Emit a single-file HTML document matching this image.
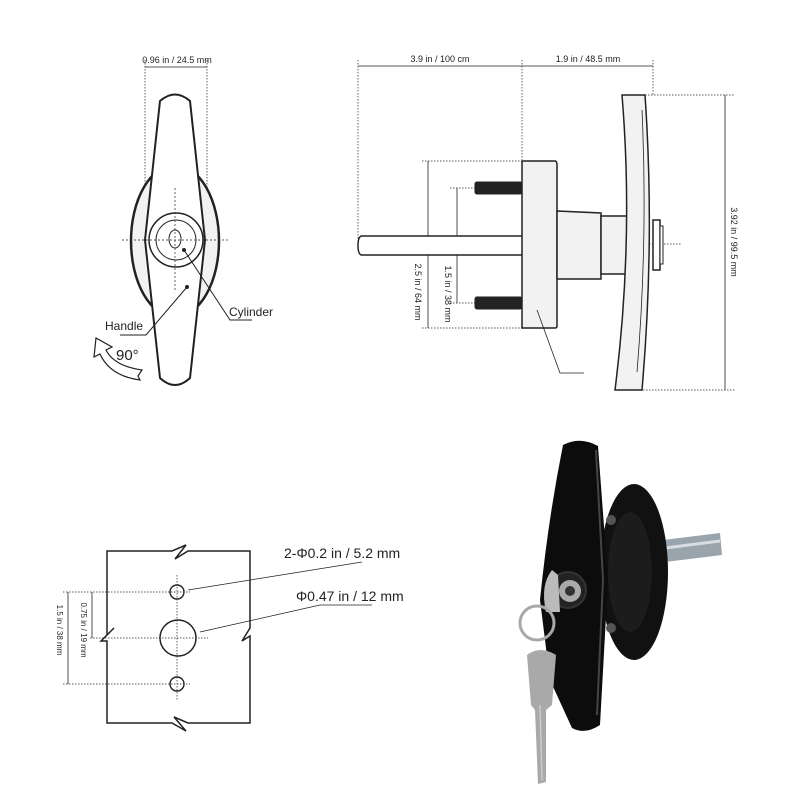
<!DOCTYPE html>
<html><head><meta charset="utf-8"><style>
html,body{margin:0;padding:0;background:#fff}
svg{display:block}
text{font-family:"Liberation Sans","DejaVu Sans",sans-serif;fill:#222}
</style></head><body>
<svg width="800" height="800" viewBox="0 0 800 800" xmlns="http://www.w3.org/2000/svg">
<!-- ===== Front view ===== -->
<g fill="none" stroke="#222">
  <line x1="145" y1="60" x2="145" y2="240" stroke-dasharray="1.5,1.5" stroke-width="0.7"/>
  <line x1="207" y1="60" x2="207" y2="240" stroke-dasharray="1.5,1.5" stroke-width="0.7"/>
  <line x1="145" y1="67" x2="207" y2="67" stroke-width="0.8"/>
  <ellipse cx="175" cy="241" rx="44" ry="76" fill="#f2f2f2" stroke-width="2.5"/>
  <path d="M160,101 Q175,88 190,101 L205,240 L190,378 Q175,392 160,378 L145,240 Z" fill="#fff" stroke-width="2"/>
  <circle cx="176" cy="240" r="27" stroke-width="1.5"/>
  <circle cx="176" cy="240" r="20" stroke-width="1"/>
  <ellipse cx="175" cy="239" rx="6" ry="9" stroke-width="1"/>
  <line x1="122" y1="240" x2="228" y2="240" stroke-dasharray="2,2" stroke-width="0.7"/>
  <line x1="175" y1="188" x2="175" y2="290" stroke-dasharray="2,2" stroke-width="0.7"/>
  <polyline points="187,287 146,335 120,335" stroke-width="1"/>
  <polyline points="184,250 230,320 252,320" stroke-width="1"/>
  <path d="M140,380 Q110,376 100,354 L94,357 L96,338 L112,347 L106,350 Q114,366 142,370 L138,376 Z" fill="#fff" stroke-width="1.2"/>
</g>
<circle cx="187" cy="287" r="2" fill="#222"/>
<circle cx="184" cy="250" r="2" fill="#222"/>
<text x="177" y="63" font-size="9" text-anchor="middle">0.96 in / 24.5 mm</text>
<text x="105" y="330" font-size="12">Handle</text>
<text x="229" y="316" font-size="12">Cylinder</text>
<text x="116" y="360" font-size="15">90°</text>

<!-- ===== Side view ===== -->
<g fill="none" stroke="#222">
  <g stroke-dasharray="1.5,1.5" stroke-width="0.7">
    <line x1="358" y1="60" x2="358" y2="240"/>
    <line x1="522" y1="60" x2="522" y2="160"/>
    <line x1="653" y1="60" x2="653" y2="95"/>
    <line x1="645" y1="95" x2="735" y2="95"/>
    <line x1="640" y1="390" x2="735" y2="390"/>
    <line x1="422" y1="161" x2="522" y2="161"/>
    <line x1="422" y1="328" x2="522" y2="328"/>
    <line x1="450" y1="188" x2="475" y2="188"/>
    <line x1="450" y1="303" x2="475" y2="303"/>
    <line x1="535" y1="244" x2="682" y2="244"/>
  </g>
  <line x1="358" y1="66" x2="653" y2="66" stroke-width="0.8"/>
  <line x1="725" y1="95" x2="725" y2="390" stroke-width="0.8"/>
  <line x1="428" y1="161" x2="428" y2="328" stroke-width="0.8"/>
  <line x1="457" y1="188" x2="457" y2="303" stroke-width="0.8"/>
  <path d="M522,236 L362,236 Q358,236 358,245.5 Q358,255 362,255 L522,255" fill="#fff" stroke-width="1.5"/>
  <rect x="475" y="182" width="47" height="12" rx="2" fill="#222"/>
  <rect x="475" y="297" width="47" height="12" rx="2" fill="#222"/>
  <path d="M522,161 L555,161 Q557,161 557,165 L557,326 Q557,328 555,328 L522,328 Z" fill="#f2f2f2" stroke-width="1.5"/>
  <path d="M557,211 L601,213 L601,279 L557,279 Z" fill="#f2f2f2" stroke-width="1.5"/>
  <path d="M601,216 L628,216 L628,274 L601,274 Z" fill="#f2f2f2" stroke-width="1.5"/>
  <path d="M622,95 L645,95 Q655,240 642,390 L615,390 Q634,240 622,95 Z" fill="#f2f2f2" stroke-width="1.5"/>
  <path d="M642,110 Q648,240 637,372" stroke-width="0.8"/>
  <rect x="653" y="220" width="7" height="50" fill="#fff" stroke-width="1.5"/>
  <rect x="660" y="226" width="3" height="38" fill="#fff" stroke-width="1"/>
  <polyline points="537,310 560,373 584,373" stroke-width="0.8"/>
</g>
<text x="440" y="62" font-size="9" text-anchor="middle">3.9 in / 100 cm</text>
<text x="588" y="62" font-size="9" text-anchor="middle">1.9 in / 48.5 mm</text>
<text font-size="9" text-anchor="middle" transform="translate(731,242) rotate(90)">3.92 in / 99.5 mm</text>
<text font-size="9" text-anchor="middle" transform="translate(415,292) rotate(90)">2.5 in / 64 mm</text>
<text font-size="9" text-anchor="middle" transform="translate(445,294) rotate(90)">1.5 in / 38 mm</text>

<!-- ===== Hole layout ===== -->
<g fill="none" stroke="#222">
  <path d="M107,551 L172,551 L186,545 L175,559 L188,551 L250,551 L250,628 L242,641 L250,636 L250,723 L188,723 L174,717 L186,731 L172,723 L107,723 L107,641 L101,641 L114,628 L107,635 Z" stroke-width="1.5"/>
  <circle cx="177" cy="592" r="7" stroke-width="1.4"/>
  <circle cx="177" cy="684" r="7" stroke-width="1.4"/>
  <circle cx="178" cy="638" r="18" stroke-width="1.5"/>
  <g stroke-dasharray="1.5,1.5" stroke-width="0.7">
    <line x1="63" y1="592" x2="190" y2="592"/>
    <line x1="90" y1="638" x2="208" y2="638"/>
    <line x1="63" y1="684" x2="190" y2="684"/>
    <line x1="177" y1="575" x2="177" y2="700"/>
  </g>
  <line x1="68" y1="592" x2="68" y2="684" stroke-width="0.8"/>
  <line x1="92" y1="592" x2="92" y2="638" stroke-width="0.8"/>
  <polyline points="188,590 362,562" stroke-width="0.8"/>
  <polyline points="200,632 320,605 372,605" stroke-width="0.8"/>
</g>
<text x="284" y="558" font-size="14">2-Φ0.2 in / 5.2 mm</text>
<text x="296" y="601" font-size="14">Φ0.47 in / 12 mm</text>
<text font-size="8" text-anchor="middle" transform="translate(57,630) rotate(90)">1.5 in / 38 mm</text>
<text font-size="8" text-anchor="middle" transform="translate(81,630) rotate(90)">0.75 in / 19 mm</text>

<!-- ===== Photo ===== -->
<g>
  <path d="M663,540 L720,533 L722,555 L665,562 Z" fill="#9aa4ad"/>
  <path d="M665,548 L720,541" stroke="#d8dde2" stroke-width="3"/>
  <ellipse cx="634" cy="572" rx="34" ry="88" fill="#111"/>
  <ellipse cx="630" cy="572" rx="22" ry="60" fill="#1c1c1c"/>
  <circle cx="611" cy="520" r="5" fill="#555"/>
  <circle cx="611" cy="628" r="5" fill="#555"/>
  <path d="M563,445 Q580,436 598,446 L608,580 L600,725 Q585,735 572,728 L550,680 L540,600 Q548,520 563,445 Z" fill="#0c0c0c"/>
  <path d="M596,450 L603,580 L597,715" stroke="#444" stroke-width="2" fill="none"/>
  <circle cx="568" cy="590" r="18" fill="#222" stroke="#333" stroke-width="2"/>
  <circle cx="570" cy="591" r="11" fill="#aaa"/>
  <circle cx="570" cy="591" r="5" fill="#333"/>
  <path d="M552,570 Q540,585 546,612 L560,612 L558,575 Z" fill="#bbb"/>
  <circle cx="537" cy="623" r="17" fill="none" stroke="#a8a8a8" stroke-width="3"/>
  <path d="M527,655 Q540,645 556,655 L552,705 L546,710 L546,782 L538,784 L535,710 L531,705 Z" fill="#a9a9a9"/>
  <path d="M540,705 L542,780" stroke="#ccc" stroke-width="1.5"/>
</g>
</svg>
</body></html>
